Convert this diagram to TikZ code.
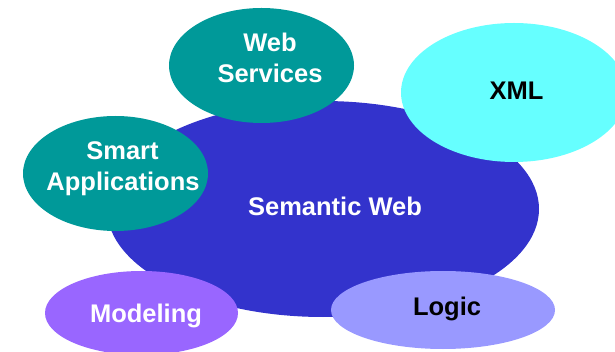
\documentclass[tikz,border=0pt]{standalone}
\usepackage{fontspec}
\setmainfont{Liberation Sans}
\usetikzlibrary{shapes.geometric}
\definecolor{semblue}{HTML}{3333CC}
\definecolor{teal}{HTML}{009999}
\definecolor{xmlcyan}{HTML}{66FFFF}
\definecolor{modpurple}{HTML}{9966FF}
\definecolor{logiclav}{HTML}{9999FF}
\tikzset{
  blob/.style={ellipse, draw=none, inner sep=0pt, outer sep=0pt},
  lbl/.style={anchor=base, inner sep=0pt, font=\bfseries\fontsize{25.5}{30.5}\selectfont, align=center},
}
\begin{document}
\begin{tikzpicture}[x=1pt,y=-1pt]
\useasboundingbox (0,0) rectangle (615,352);
\clip (0,0) rectangle (615,352);
\node[blob, fill=semblue, minimum width=432pt, minimum height=216pt] (sem) at (323,209) {};
\node[blob, fill=teal, minimum width=185pt, minimum height=115pt] (ws) at (261.5,65.5) {};
\node[blob, fill=teal, minimum width=185pt, minimum height=115pt] (sa) at (115.5,173.5) {};
\node[blob, fill=xmlcyan, minimum width=226pt, minimum height=139pt] (xml) at (514,92.5) {};
\node[blob, fill=modpurple, minimum width=193pt, minimum height=84pt] (mod) at (141.5,313) {};
\node[blob, fill=logiclav, minimum width=224pt, minimum height=78pt] (log) at (443,310) {};
\node[lbl, text=white] (semt) at (335,216) {Semantic Web};
\node[lbl, text=white] (wst1) at (270,52) {Web};
\node[lbl, text=white] (wst2) at (270,83) {Services};
\node[lbl, text=white] (sat1) at (122.5,160) {Smart};
\node[lbl, text=white] (sat2) at (123,191) {Applications};
\node[lbl, text=black] (xmlt) at (516.5,100) {XML};
\node[lbl, text=black] (logt) at (447,316) {Logic};
\node[lbl, text=white] (modt) at (146,322) {Modeling};
\end{tikzpicture}
\end{document}
